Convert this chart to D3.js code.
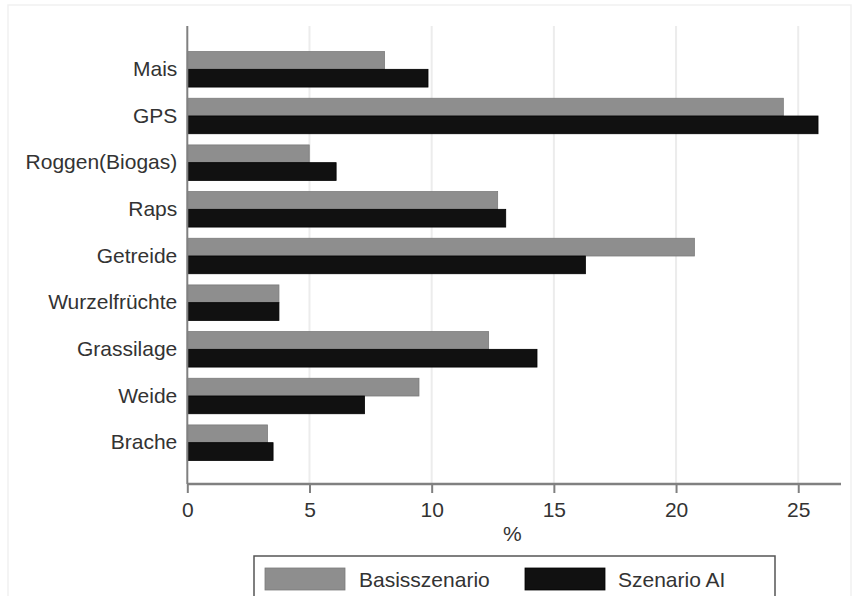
<!DOCTYPE html>
<html>
<head>
<meta charset="utf-8">
<script src="https://cdn.jsdelivr.net/npm/d3@7"></script>
<style>
  html, body { margin: 0; padding: 0; background: #fff; }
  svg { display: block; font-family: "Liberation Sans", Arial, sans-serif; }
</style>
</head>
<body>
<svg id="chart" width="859" height="596"></svg>
<script>
const categories = ["Mais", "GPS", "Roggen(Biogas)", "Raps", "Getreide", "Wurzelfrüchte", "Grassilage", "Weide", "Brache"];
const seriesNames = ["Basisszenario", "Szenario AI"];
const basisszenario = [8.07, 24.39, 4.99, 12.70, 20.75, 3.75, 12.33, 9.48, 3.28];
const szenarioAI = [9.85, 25.81, 6.09, 13.03, 16.29, 3.75, 14.31, 7.25, 3.51];
const xTicks = [0, 5, 10, 15, 20, 25];
const colors = ["#8e8e8e", "#111111"];
const xLabel = "%";

const svg = d3.select("#chart");

// faint outer frame
svg.append("rect").attr("x", 8).attr("y", 5).attr("width", 843).attr("height", 600)
  .attr("fill", "none").attr("stroke", "#f1f1f1").attr("stroke-width", 1.5);

const plotTop = 26, plotBottom = 484, plotLeft = 187.3, plotRight = 841;

const x = d3.scaleLinear().domain([0, 26.75]).range([plotLeft, plotRight]);
const y = d3.scaleBand().domain(categories).range([27, 485]).paddingInner(0.24).paddingOuter(0.527);
const ySub = d3.scaleBand().domain(seriesNames).range([0, y.bandwidth()]);

// gridlines
svg.append("g").selectAll("line").data(xTicks.filter(d => d > 0)).join("line")
  .attr("x1", d => x(d)).attr("x2", d => x(d))
  .attr("y1", plotTop).attr("y2", plotBottom)
  .attr("stroke", "#ececec").attr("stroke-width", 2);

// bars
const rows = categories.map((c, i) => ({ c, vals: [basisszenario[i], szenarioAI[i]] }));
const g = svg.append("g");
rows.forEach(r => {
  r.vals.forEach((v, j) => {
    g.append("rect")
      .attr("x", x(0))
      .attr("y", y(r.c) + ySub(seriesNames[j]))
      .attr("width", x(v) - x(0))
      .attr("height", ySub.bandwidth())
      .attr("fill", colors[j])
      .attr("stroke", j === 0 ? "#7a7a7a" : "#000")
      .attr("stroke-width", 0.8);
  });
});

// y axis
const yAxis = svg.append("g").attr("transform", `translate(${plotLeft},0)`)
  .call(d3.axisLeft(y).tickSize(0).tickPadding(10));
yAxis.select(".domain").remove();
yAxis.selectAll("text").attr("font-size", 21).attr("fill", "#333");
svg.append("line").attr("x1", plotLeft).attr("x2", plotLeft).attr("y1", plotTop).attr("y2", plotBottom)
  .attr("stroke", "#808080").attr("stroke-width", 2);

// x axis
const xAxis = svg.append("g").attr("transform", `translate(0,${plotBottom})`)
  .call(d3.axisBottom(x).tickValues(xTicks).tickSize(9).tickPadding(9).tickFormat(d3.format("d")));
xAxis.select(".domain").attr("stroke", "#808080").attr("stroke-width", 2.5)
  .attr("d", `M${plotLeft},0H${plotRight}`);
xAxis.selectAll(".tick line").attr("stroke", "#808080").attr("stroke-width", 2);
xAxis.selectAll("text").attr("font-size", 21).attr("fill", "#333");

svg.append("text").attr("x", x(13.3)).attr("y", 541).attr("text-anchor", "middle")
  .attr("font-size", 21).attr("fill", "#333").text(xLabel);

// legend
const lg = svg.append("g");
lg.append("rect").attr("x", 254).attr("y", 556).attr("width", 521).attr("height", 50)
  .attr("fill", "#fff").attr("stroke", "#555").attr("stroke-width", 1.5);
const legendItems = [
  { name: seriesNames[0], color: colors[0], sx: 265, tx: 359 },
  { name: seriesNames[1], color: colors[1], sx: 525, tx: 618 }
];
legendItems.forEach((it, j) => {
  lg.append("rect").attr("x", it.sx).attr("y", 568).attr("width", 80).attr("height", 22)
    .attr("fill", it.color).attr("stroke", j === 0 ? "#7a7a7a" : "#000").attr("stroke-width", 0.8);
  lg.append("text").attr("x", it.tx).attr("y", 587).attr("font-size", 21).attr("fill", "#333").text(it.name);
});
</script>
</body>
</html>
